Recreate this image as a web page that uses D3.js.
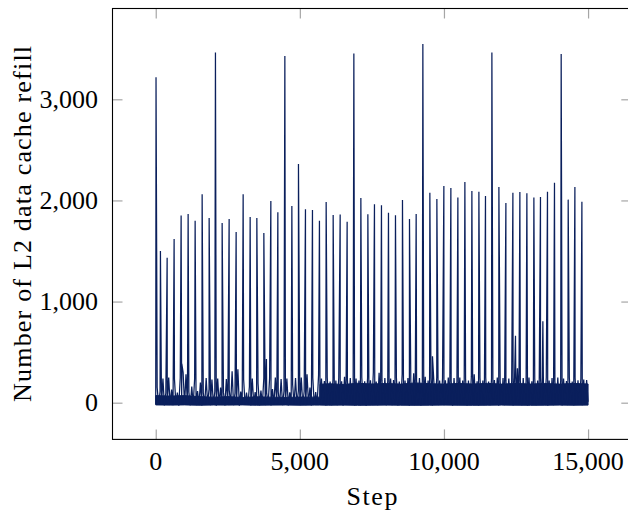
<!DOCTYPE html>
<html>
<head>
<meta charset="utf-8">
<script src="https://cdn.jsdelivr.net/npm/d3@7"></script>
<style>
  html, body { margin: 0; padding: 0; background: #fff; }
  svg { display: block; }
  text { font-family: "Liberation Serif", "DejaVu Serif", serif; fill: #000; }
</style>
</head>
<body>
<svg id="chart" width="628" height="513"></svg>
<script>
// ---------------- data ----------------
const xTicks = [0, 5000, 10000, 15000];
const yTicks = [0, 1000, 2000, 3000];

// background readings, one every 50 steps (steps 0 .. 14950)
const noiseInterval = 50;
const noiseEarly = [
  -15, 150, -22, 110, -18, 240, -28, 95, -12, 250,
  -20, 130, -25, 235, -15, 100, -30, 245, -18, 300,
  -22, 280, -14, 105, -26, 160, -19, 240, -24, 115,
  -16, 200, -28, 98, -20, 245, -12, 135, -25, 230,
  -18, 110, -30, 240, -15, 150, -22, 102, -27, 235,
  -20, 125, -14, 310, -25, 95, -18, 330, -29, 110,
  -16, 230, -23, 100, -20, 160, -27, 240, -13, 105,
  -21, 190, -26, 120, -17, 245, -24, 98, -19, 240,
  -28, 135, -15, 250, -22, 108, -18, 235, -25, 115,
  -14, 240, -27, 102, -20, 180, -23, 245, -17, 120,
  -26, 250, -19, 110, -24, 280, -15, 150, -28, 245,
  -21, 105, -18, 275
];
const noiseLate = [
  -20, 240, -15, 215, -28, 250, -18, 210, -24, 235,
  -12, 220, -26, 245, -20, 212, -30, 255, -16, 225,
  -22, 245, -18, 208, -27, 240, -14, 218, -25, 250,
  -19, 212, -29, 245, -16, 222, -23, 300, -20, 210,
  -26, 295, -13, 218, -21, 245, -28, 212, -17, 240,
  -24, 225, -15, 250, -27, 210, -19, 280, -22, 220,
  -18, 245, -29, 215, -14, 290, -25, 225, -20, 245,
  -27, 212, -16, 255, -23, 220, -19, 245, -28, 210,
  -15, 250, -24, 218, -21, 240, -26, 222, -17, 250,
  -22, 215, -29, 245, -14, 210, -25, 250, -20, 220,
  -18, 240, -27, 218, -23, 255, -16, 280, -21, 212,
  -28, 245, -13, 220, -24, 250, -19, 210, -26, 240,
  -17, 225, -22, 250, -29, 212, -15, 245, -25, 218,
  -20, 240, -16, 210, -27, 250, -23, 340, -18, 220,
  -24, 245, -14, 215, -28, 250, -21, 212, -17, 240,
  -26, 220, -19, 245, -23, 210, -15, 250, -29, 218,
  -20, 245, -25, 212, -16, 250, -22, 220, -27, 240,
  -18, 215, -24, 250, -14, 210, -28, 245, -21, 222,
  -17, 240, -26, 230, -20, 225
];
const lastStep = 15000;
const lastValue = 10;

// dense core of the signal (where the trace fills the band solidly)
const coreSteps = [0, 500, 1000, 1500, 2000, 2500, 3000, 3500, 4000, 4500, 5000, 5500, 5690,
  5700, 6000, 6500, 7000, 7500, 8000, 8500, 9000, 9500, 10000, 10500, 11000, 11500,
  12000, 12500, 13000, 13500, 14000, 14500, 15000];
const coreHigh = [70, 65, 70, 60, 55, 60, 52, 58, 55, 52, 56, 55, 55,
  182, 188, 180, 192, 185, 190, 184, 195, 188, 184, 190, 185, 191,
  184, 190, 185, 189, 184, 190, 185];
const coreLow = [-22, -24, -22, -25, -23, -24, -22, -25, -24, -23, -25, -24, -24,
  -24, -25, -24, -26, -25, -24, -25, -26, -25, -24, -25, -26, -25,
  -24, -25, -26, -25, -24, -25, -24];

// large refill spikes
const spikeSteps = [
  10, 163, 396, 638, 881, 1124, 1367, 1610, 1853, 2072,
  2304, 2547, 2790, 3033, 3276, 3508, 3751, 3994, 4237, 4480,
  4723, 4952, 5195, 5438, 5680, 5913, 6156, 6399, 6641, 6874,
  7117, 7360, 7589, 7832, 8075, 8318, 8561, 8804, 9036, 9268,
  9511, 9754, 9997, 10240, 10483, 10726, 10969, 11212, 11441, 11663,
  11906, 12149, 12392, 12634, 12877, 13120, 13349, 13592, 13835, 14067,
  14310, 14543, 14786
];
const spikeValues = [
  3219, 1500, 1434, 1619, 1850, 1866, 1800, 2061, 1827, 3462,
  1777, 1817, 1688, 2061, 1837, 1827, 1679, 1995, 1883, 3429,
  1946, 2361, 1913, 1906, 1800, 1985, 1857, 1860, 1790, 3452,
  2025, 1863, 1962, 1952, 1879, 1853, 2005, 1817, 1866, 3548,
  2077, 2015, 2143, 2124, 2028, 2183, 2094, 2087, 2045, 3462,
  2134, 1975, 2077, 2084, 2071, 2028, 2035, 2087, 2176, 3449,
  2008, 2134, 1988
];
// medium bursts inside the noise band
const burstSteps = [905, 3841, 9602, 12482, 13432];
const burstValues = [383, 432, 459, 663, 805];

// ---------------- build series ----------------
const noise = noiseEarly.concat(noiseLate);
let series = noise.map((v, i) => ({ step: i * noiseInterval, value: v }));
series.push({ step: lastStep, value: lastValue });
spikeSteps.forEach((s, i) => series.push({ step: s, value: spikeValues[i] }));
burstSteps.forEach((s, i) => series.push({ step: s, value: burstValues[i] }));
series.sort((a, b) => a.step - b.step);
const core = coreSteps.map((s, i) => ({ step: s, lo: coreLow[i], hi: coreHigh[i] }));

// ---------------- layout ----------------
const svg = d3.select("#chart");
const L = 112.5, R = 631.3, T = 8.5, B = 439.4;

const x = d3.scaleLinear().domain([-1500, 16500]).range([L, R]);
const y = d3.scaleLinear().domain([-363, 3898]).range([B, T]);

const fmt = d3.format(",");
const tickLen = 10;
const tickColor = "#a6a6a6";
const lineColor = "#0a1f5c";

svg.append("clipPath").attr("id", "clip")
  .append("rect").attr("x", L).attr("y", T).attr("width", R - L).attr("height", B - T);

const plot = svg.append("g").attr("clip-path", "url(#clip)");

// dense core
plot.append("path")
  .datum(core)
  .attr("fill", lineColor)
  .attr("stroke", lineColor)
  .attr("stroke-width", 1)
  .attr("d", d3.area().x(d => x(d.step)).y0(d => y(d.lo)).y1(d => y(d.hi)));

// data line
plot.append("path")
  .datum(series)
  .attr("fill", "none")
  .attr("stroke", lineColor)
  .attr("stroke-width", 1.25)
  .attr("d", d3.line().x(d => x(d.step)).y(d => y(d.value)));

// ticks (inward on all sides)
const axBottom = svg.append("g").attr("transform", `translate(0,${B})`)
  .call(d3.axisBottom(x).tickValues(xTicks).tickSize(-tickLen).tickFormat(""));
const axTop = svg.append("g").attr("transform", `translate(0,${T})`)
  .call(d3.axisTop(x).tickValues(xTicks).tickSize(-tickLen).tickFormat(""));
const axLeft = svg.append("g").attr("transform", `translate(${L},0)`)
  .call(d3.axisLeft(y).tickValues(yTicks).tickSize(-tickLen).tickFormat(""));
const axRight = svg.append("g").attr("transform", `translate(${R},0)`)
  .call(d3.axisRight(y).tickValues(yTicks).tickSize(-tickLen).tickFormat(""));
[axBottom, axTop, axLeft, axRight].forEach(g => {
  g.select(".domain").remove();
  g.selectAll(".tick line").attr("stroke", tickColor).attr("stroke-width", 1.2);
});

// frame
svg.append("rect")
  .attr("x", L).attr("y", T).attr("width", R - L).attr("height", B - T)
  .attr("fill", "none").attr("stroke", "#000").attr("stroke-width", 1.1);

// tick labels
const fs = 26;
svg.append("g").selectAll("text").data(xTicks).join("text")
  .attr("x", d => x(d)).attr("y", 470)
  .attr("text-anchor", "middle").attr("font-size", fs)
  .text(d => fmt(d));
svg.append("g").selectAll("text").data(yTicks).join("text")
  .attr("x", 98).attr("y", d => y(d) + 8.5)
  .attr("text-anchor", "end").attr("font-size", fs)
  .text(d => fmt(d));

// axis labels
svg.append("text")
  .attr("x", (L + R) / 2).attr("y", 505)
  .attr("text-anchor", "middle").attr("font-size", fs)
  .attr("textLength", 51).attr("lengthAdjust", "spacing")
  .text("Step");
svg.append("text")
  .attr("transform", `translate(31,${(T + B) / 2}) rotate(-90)`)
  .attr("text-anchor", "middle").attr("font-size", fs)
  .attr("textLength", 356).attr("lengthAdjust", "spacing")
  .text("Number of L2 data cache refill");
</script>
</body>
</html>
